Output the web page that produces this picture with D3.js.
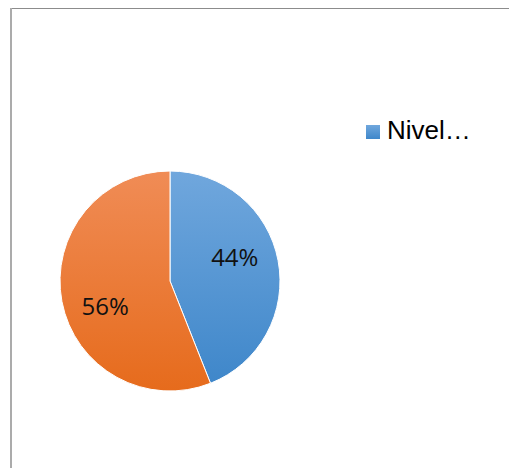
<!DOCTYPE html>
<html>
<head>
<meta charset="utf-8">
<script src="https://cdn.jsdelivr.net/npm/d3@7"></script>
<style>
  html, body { margin: 0; padding: 0; background: #fff; }
  svg { display: block; }
</style>
</head>
<body>
<script>
// ---- data ----
const categories = ["Nivel…", "Otro"];
const values = [44, 56];
const labels = ["44%", "56%"];
const legendItems = ["Nivel…"];
const topColors = ["#70a7dd", "#f08c56"];
const bottomColors = ["#3f87ca", "#e66b1c"];

const W = 509, H = 468;
const svg = d3.select("body").append("svg").attr("width", W).attr("height", H);
const defs = svg.append("defs");

categories.forEach((c, i) => {
  const g = defs.append("linearGradient").attr("id", "grad" + i)
    .attr("x1", 0).attr("y1", 0).attr("x2", 0).attr("y2", 1);
  g.append("stop").attr("offset", "0%").attr("stop-color", topColors[i]);
  g.append("stop").attr("offset", "100%").attr("stop-color", bottomColors[i]);
});

// frame
svg.append("line").attr("x1", 10).attr("y1", 8.5).attr("x2", W).attr("y2", 8.5)
  .attr("stroke", "#8c8c8c").attr("stroke-width", 1);
svg.append("line").attr("x1", 11).attr("y1", 8).attr("x2", 11).attr("y2", H)
  .attr("stroke", "#ababab").attr("stroke-width", 2);

// pie
const cx = 170, cy = 281, r = 110;
const pie = d3.pie().sort(null).value(d => d);
const arcs = pie(values);
const arc = d3.arc().innerRadius(0).outerRadius(r);
const g = svg.append("g").attr("transform", `translate(${cx},${cy})`);

g.selectAll("path").data(arcs).join("path")
  .attr("d", arc)
  .attr("fill", (d, i) => `url(#grad${i})`)
  .attr("stroke", "#ffffff")
  .attr("stroke-width", 1);

// labels: Excel best-fit placement, ~0.63r along the bisector rotated slightly
const labelR = r * 0.63;
const rot = -10 * Math.PI / 180;
g.selectAll("text.lbl").data(arcs).join("text")
  .attr("class", "lbl")
  .attr("x", d => labelR * Math.sin((d.startAngle + d.endAngle) / 2 + rot))
  .attr("y", d => -labelR * Math.cos((d.startAngle + d.endAngle) / 2 + rot))
  .attr("text-anchor", "middle")
  .attr("dominant-baseline", "central")
  .attr("font-family", "'Open Sans', sans-serif")
  .attr("font-size", 24)
  .attr("fill", "#111")
  .text((d, i) => labels[i]);

// legend
const lg = svg.append("g").attr("transform", "translate(366,125)");
legendItems.forEach((t, i) => {
  lg.append("rect").attr("x", 0).attr("y", 0).attr("width", 14).attr("height", 14)
    .attr("fill", `url(#grad${i})`);
  lg.append("text").attr("x", 21).attr("y", 13.5)
    .attr("font-family", "'Liberation Sans', Arial, sans-serif")
    .attr("font-size", 26)
    .attr("fill", "#000")
    .text(t);
});
</script>
</body>
</html>
